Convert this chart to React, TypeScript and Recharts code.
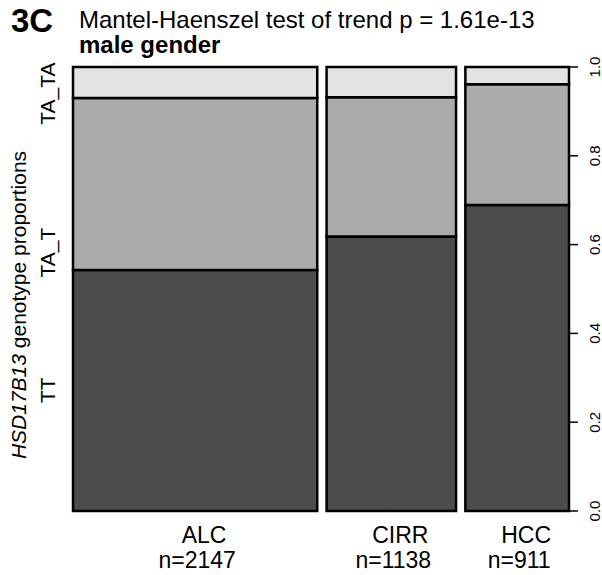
import { ComposedChart, ReferenceArea, XAxis, YAxis } from "recharts";

// spine plot: column widths follow group size, heights follow genotype shares
const groups = ["ALC", "CIRR", "HCC"];
const groupN = [2147, 1138, 911];
const genotypes = ["TT", "TA_T", "TA_TA"];
const ttShare = [0.543, 0.618, 0.689];
const taTShare = [0.387, 0.314, 0.272];
const taTaShare = [0.07, 0.068, 0.039];
const genotypeColors = ["#4d4d4d", "#ababab", "#e3e3e3"];
const genotypeLabelAt = [0.272, 0.582, 0.94];
const proportionTicks = [0, 0.2, 0.4, 0.6, 0.8, 1];

const GAP = 82; // space between columns, in count units
const FONT = "'Liberation Sans', Arial, sans-serif";

const shares = [ttShare, taTShare, taTaShare];
const columns = groups.map((name, i) => {
  const start = groupN.slice(0, i).reduce((a, b) => a + b, 0) + i * GAP;
  return { name, n: groupN[i], start, end: start + groupN[i], center: start + groupN[i] / 2, tt: ttShare[i] };
});
const totalWidth = columns[columns.length - 1].end;

const cells = columns.flatMap((col, i) => {
  let bottom = 0;
  return genotypes.map((g, k) => {
    const top = bottom + shares[k][i];
    const cell = { key: `${col.name}-${g}`, x1: col.start, x2: col.end, y1: bottom, y2: Math.min(top, 1), fill: genotypeColors[k] };
    bottom = top;
    return cell;
  });
});

function GroupTick(props: any) {
  const { x, y, payload } = props;
  const col = columns.find((c) => c.center === payload.value);
  if (!col) return null;
  return (
    <g>
      <text x={x + 9} y={y + 32} textAnchor="middle" fontSize={23} fontFamily={FONT} fill="#000">
        {col.name}
      </text>
      <text x={x + 2} y={y + 57} textAnchor="middle" fontSize={23} fontFamily={FONT} fill="#000">
        n={col.n}
      </text>
    </g>
  );
}

function GenotypeTick(props: any) {
  const { x, y, payload } = props;
  const idx = genotypeLabelAt.indexOf(payload.value);
  return (
    <text x={x} y={y} transform={`rotate(-90 ${x} ${y})`} textAnchor="middle" fontSize={21} fontFamily={FONT} fill="#000">
      {genotypes[idx]}
    </text>
  );
}

function ProportionTick(props: any) {
  const { x, y, payload } = props;
  return (
    <text x={x} y={y} transform={`rotate(-90 ${x} ${y})`} textAnchor="middle" fontSize={15} fontFamily={FONT} fill="#000">
      {Number(payload.value).toFixed(1)}
    </text>
  );
}

function AxisTitle(props: any) {
  const vb = props.viewBox;
  const x = vb.x + 26;
  const y = vb.y + vb.height / 2 + 16;
  return (
    <text x={x} y={y} transform={`rotate(-90 ${x} ${y})`} textAnchor="middle" fontSize={21} fontFamily={FONT} fill="#000">
      <tspan fontStyle="italic">HSD17B13</tspan> genotype proportions
    </text>
  );
}

export default function App() {
  return (
    <div style={{ position: "absolute", left: 0, top: 0, width: 602, height: 575, background: "#fff" }}>
      <ComposedChart width={602} height={575} data={columns} margin={{ top: 67, right: 0, bottom: 0, left: 0 }}>
        <XAxis
          dataKey="center"
          type="number"
          domain={[0, totalWidth]}
          ticks={columns.map((c) => c.center)}
          tick={<GroupTick />}
          axisLine={false}
          tickLine={false}
          tickSize={0}
          tickMargin={0}
          height={64}
          interval={0}
        />
        <YAxis
          yAxisId="left"
          dataKey="tt"
          orientation="left"
          type="number"
          domain={[0, 1]}
          allowDataOverflow
          ticks={genotypeLabelAt}
          tick={<GenotypeTick />}
          axisLine={false}
          tickLine={false}
          tickSize={0}
          tickMargin={18}
          width={73}
          interval={0}
          label={<AxisTitle />}
        />
        <YAxis
          yAxisId="right"
          dataKey="tt"
          orientation="right"
          type="number"
          domain={[0, 1]}
          allowDataOverflow
          ticks={proportionTicks}
          tick={<ProportionTick />}
          axisLine={{ stroke: "#000", strokeWidth: 1.5 }}
          tickLine={{ stroke: "#000", strokeWidth: 1.5 }}
          tickSize={9}
          tickMargin={22}
          width={33}
          interval={0}
        />
        {cells.map((c) => (
          <ReferenceArea
            key={c.key}
            yAxisId="right"
            x1={c.x1}
            x2={c.x2}
            y1={c.y1}
            y2={c.y2}
            fill={c.fill}
            fillOpacity={1}
            stroke="#000"
            strokeWidth={2.5}
            ifOverflow="visible"
          />
        ))}
      </ComposedChart>
      <svg width={602} height={70} style={{ position: "absolute", left: 0, top: 0, pointerEvents: "none" }}>
        <text x={11} y={32} fontSize={33} fontWeight="bold" fontFamily={FONT} fill="#000">
          3C
        </text>
        <text x={79} y={28} fontSize={24} fontFamily={FONT} fill="#000">
          Mantel-Haenszel test of trend p = 1.61e-13
        </text>
        <text x={79} y={53} fontSize={24} fontWeight="bold" fontFamily={FONT} fill="#000">
          male gender
        </text>
      </svg>
    </div>
  );
}
